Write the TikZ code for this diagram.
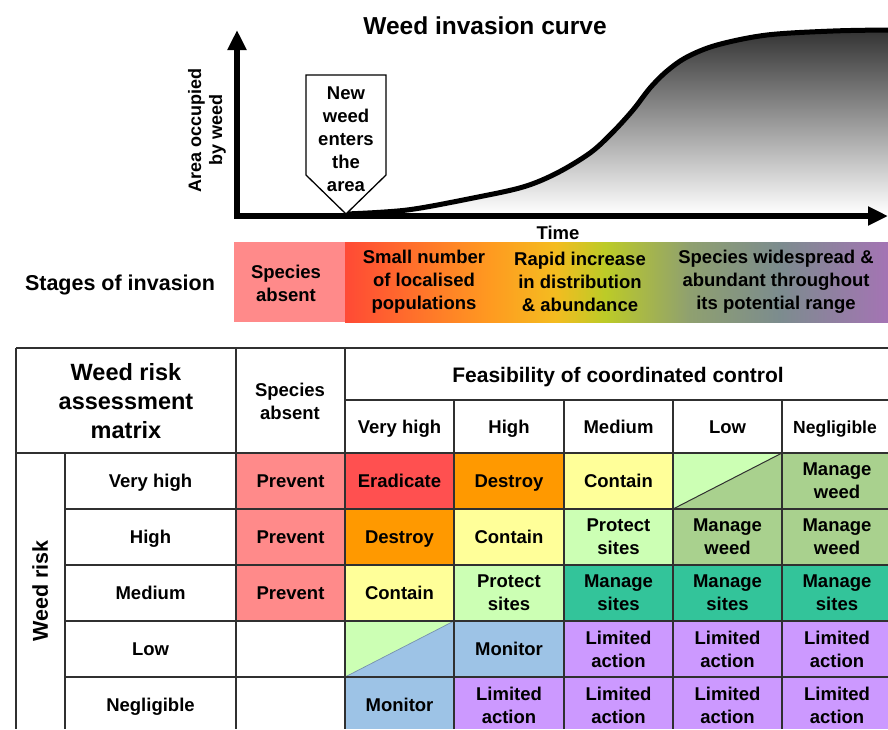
\documentclass[tikz,border=0pt]{standalone}
\usepackage{fontspec}
\setmainfont{Liberation Sans}
\usetikzlibrary{arrows.meta}
\definecolor{cPrev}{HTML}{FF8A8A}
\definecolor{cErad}{HTML}{FF5050}
\definecolor{cDest}{HTML}{FF9900}
\definecolor{cCont}{HTML}{FFFF99}
\definecolor{cProt}{HTML}{CCFFB4}
\definecolor{cMW}{HTML}{A9D18E}
\definecolor{cMS}{HTML}{33C49A}
\definecolor{cMon}{HTML}{9DC3E6}
\definecolor{cLim}{HTML}{CC99FF}
\definecolor{cGrid}{HTML}{303030}
\definecolor{g0}{HTML}{FF4A35}
\definecolor{g1}{HTML}{FF9A20}
\definecolor{g2}{HTML}{F4BC20}
\definecolor{g3}{HTML}{BCCB27}
\definecolor{g4}{HTML}{8FA070}
\definecolor{g5}{HTML}{7C8C8E}
\definecolor{g6}{HTML}{A474B4}
\pgfdeclarehorizontalshading{stagegrad}{100bp}{color(0bp)=(g0); color(25bp)=(g0); color(38.35bp)=(g1); color(44.35bp)=(g2); color(48.95bp)=(g3); color(56.75bp)=(g4); color(65bp)=(g5); color(75bp)=(g6); color(100bp)=(g6)}
\begin{document}
\begin{tikzpicture}[x=1pt,y=-1pt,
  txt/.style={font=\fontsize{18.5}{23}\selectfont\bfseries, align=center, inner sep=0pt},
  one/.style={font=\fontsize{18.5}{23}\selectfont\bfseries, inner sep=0pt, text height=13.3pt, text depth=0pt},
  axisline/.style={line width=5.5pt, -{Triangle[length=20pt,width=18pt]}},
  grid/.style={cGrid, line width=1.6pt}
]
\useasboundingbox (0,0) rectangle (888,729);
\fill[white] (0,0) rectangle (888,729);

% ---------- invasion curve ----------
\node[font=\fontsize{24.5}{28}\selectfont\bfseries, inner sep=0pt] (title) at (485,26) {Weed invasion curve};

\shade[top color=black!80, bottom color=white]
  plot[smooth, tension=0.55] coordinates {(346,214) (407,210) (473,198) (523,187) (557,173) (590,153) (612,133) (633,110) (650,88) (667,71) (687,57) (717,45) (767,35) (833,31) (888,30)}
  -- (888,214) -- (346,214) -- cycle;
\draw[line width=5pt, line cap=round]
  plot[smooth, tension=0.55] coordinates {(346,214) (407,210) (473,198) (523,187) (557,173) (590,153) (612,133) (633,110) (650,88) (667,71) (687,57) (717,45) (767,35) (833,31) (888,30)};

\coordinate (origin) at (237,216);
\coordinate (ytip) at (237,30);
\coordinate (xtip) at (888,216);
\coordinate (ybot) at (237,218.75);
\coordinate (xleft) at (234.25,216);
\draw[axisline] (ybot) -- (ytip);
\draw[axisline] (xleft) -- (xtip);

\draw[fill=white, line width=1.3pt] (306,75) -- (386,75) -- (386,175) -- (346,214) -- (306,175) -- cycle;
\node[txt] (enter) at (346,139) {New\\weed\\enters\\the\\area};

\node[font=\fontsize{18}{21}\selectfont\bfseries, align=center, inner sep=0pt, rotate=90] (ylab) at (207,130) {Area occupied\\by weed};
\node[one] (time) at (558,233) {Time};

% ---------- stages band ----------
\fill[cPrev] (234,242) rectangle (345.5,322);
\shade[shading=stagegrad] (345,242) rectangle (888,322);
\node[font=\fontsize{21.5}{25}\selectfont\bfseries, inner sep=0pt, text height=15.5pt, text depth=0pt] (stages) at (120,283) {Stages of invasion};
\node[txt] (s1) at (286,283) {Species\\absent};
\node[txt] (s2) at (424,282) {Small number\\of localised\\populations};
\node[txt] (s3) at (580,282) {Rapid increase\\in distribution\\\& abundance};
\node[txt] (s4) at (776,282) {Species widespread \&\\abundant throughout\\its potential range};

% ---------- matrix fills ----------
% row Very high 453-509
\fill[cPrev] (236,453) rectangle (345,509);
\fill[cErad] (345,453) rectangle (454,509);
\fill[cDest] (454,453) rectangle (564,509);
\fill[cCont] (564,453) rectangle (673,509);
\fill[cProt] (673,509) -- (673,453) -- (782,453) -- cycle;
\fill[cMW] (673,509) -- (782,453) -- (782,509) -- cycle;
\fill[cMW] (782,453) rectangle (888,509);
% row High 509-565
\fill[cPrev] (236,509) rectangle (345,565);
\fill[cDest] (345,509) rectangle (454,565);
\fill[cCont] (454,509) rectangle (564,565);
\fill[cProt] (564,509) rectangle (673,565);
\fill[cMW] (673,509) rectangle (888,565);
% row Medium 565-621
\fill[cPrev] (236,565) rectangle (345,621);
\fill[cCont] (345,565) rectangle (454,621);
\fill[cProt] (454,565) rectangle (564,621);
\fill[cMS] (564,565) rectangle (888,621);
% row Low 621-677
\fill[cProt] (345,677) -- (345,621) -- (454,621) -- cycle;
\fill[cMon] (345,677) -- (454,621) -- (454,677) -- cycle;
\fill[cMon] (454,621) rectangle (564,677);
\fill[cLim] (564,621) rectangle (888,677);
% row Negligible 677-729
\fill[cMon] (345,677) rectangle (454,729);
\fill[cLim] (454,677) rectangle (888,729);

\draw[cGrid, line width=1pt] (673,509) -- (782,453);
\draw[cMon!75!black, line width=0.7pt] (345,677) -- (454,621);

% ---------- grid ----------
\draw[grid] (16,348) -- (888,348);
\draw[grid] (345,400) -- (888,400);
\draw[grid] (16,453) -- (888,453);
\foreach \yy in {509,565,621,677} \draw[grid] (65,\yy) -- (888,\yy);
\foreach \xx in {16,236,345} \draw[grid] (\xx,348) -- (\xx,729);
\draw[grid] (65,453) -- (65,729);
\foreach \xx in {454,564,673,782} \draw[grid] (\xx,400) -- (\xx,729);

% ---------- matrix texts ----------
\node[font=\fontsize{23.5}{29}\selectfont\bfseries, align=center, inner sep=0pt] (wram) at (126,401) {Weed risk\\assessment\\matrix};
\node[txt] (hsa) at (290,401) {Species\\absent};
\node[font=\fontsize{21}{25}\selectfont\bfseries, inner sep=0pt, text height=15pt, text depth=0pt] (feas) at (618,375) {Feasibility of coordinated control};
\node[one] (fvh) at (399.5,427) {Very high};
\node[one] (fh) at (509,427) {High};
\node[one] (fm) at (618.5,427) {Medium};
\node[one] (fl) at (727.5,427) {Low};
\node[one, font=\fontsize{17.5}{22}\selectfont\bfseries, text height=12.6pt] (fn) at (835,427) {Negligible};

\node[font=\fontsize{21.5}{25}\selectfont\bfseries, inner sep=0pt, rotate=90, text height=15.5pt, text depth=0pt] (wr) at (40,591) {Weed risk};
\node[one] (rvh) at (150.5,481) {Very high};
\node[one] (rh) at (150.5,537) {High};
\node[one] (rm) at (150.5,593) {Medium};
\node[one] (rl) at (150.5,649) {Low};
\node[one] (rn) at (150.5,705) {Negligible};

% Very high row
\node[one] (c11) at (290.5,481) {Prevent};
\node[one] (c12) at (399.5,481) {Eradicate};
\node[one] (c13) at (509,481) {Destroy};
\node[one] (c14) at (618.5,481) {Contain};
\node[txt] (c16) at (837,481) {Manage\\weed};
% High row
\node[one] (c21) at (290.5,537) {Prevent};
\node[one] (c22) at (399.5,537) {Destroy};
\node[one] (c23) at (509,537) {Contain};
\node[txt] (c24) at (618.5,537) {Protect\\sites};
\node[txt] (c25) at (727.5,537) {Manage\\weed};
\node[txt] (c26) at (837,537) {Manage\\weed};
% Medium row
\node[one] (c31) at (290.5,593) {Prevent};
\node[one] (c32) at (399.5,593) {Contain};
\node[txt] (c33) at (509,593) {Protect\\sites};
\node[txt] (c34) at (618.5,593) {Manage\\sites};
\node[txt] (c35) at (727.5,593) {Manage\\sites};
\node[txt] (c36) at (837,593) {Manage\\sites};
% Low row
\node[one] (c43) at (509,649) {Monitor};
\node[txt] (c44) at (618.5,649) {Limited\\action};
\node[txt] (c45) at (727.5,649) {Limited\\action};
\node[txt] (c46) at (837,649) {Limited\\action};
% Negligible row
\node[one] (c52) at (399.5,705) {Monitor};
\node[txt] (c53) at (509,705) {Limited\\action};
\node[txt] (c54) at (618.5,705) {Limited\\action};
\node[txt] (c55) at (727.5,705) {Limited\\action};
\node[txt] (c56) at (837,705) {Limited\\action};
\end{tikzpicture}
\end{document}
